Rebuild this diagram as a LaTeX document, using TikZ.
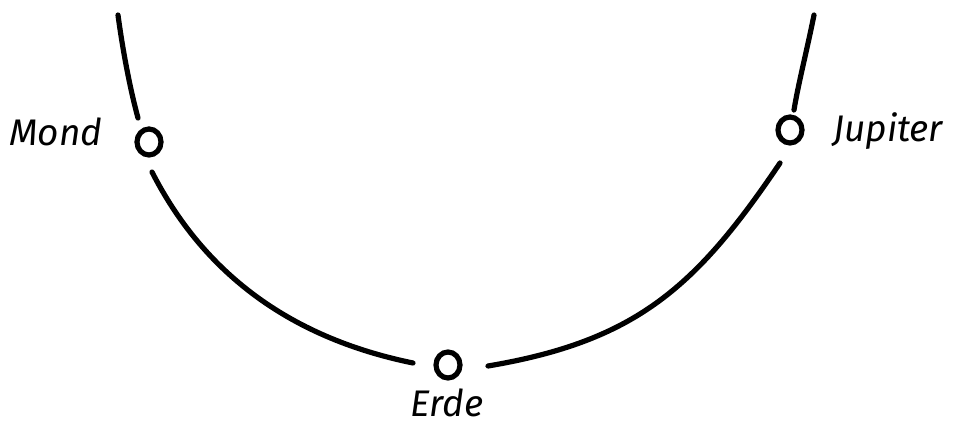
\documentclass[tikz,border=0pt]{standalone}
\usepackage{fontspec}
\setmainfont{Fira Sans}
\usetikzlibrary{shapes.geometric}
\tikzset{
  planet/.style={ellipse, draw, line width=5.2pt, inner sep=0pt,
                 minimum width=24pt, minimum height=26pt},
  arc/.style={line width=5.2pt, line cap=round},
  lbl/.style={font=\fontsize{37}{40}\selectfont\itshape, inner sep=0pt}
}
\begin{document}
\begin{tikzpicture}[x=1pt,y=-1pt]
\useasboundingbox (0,0) rectangle (961,427);
% planets
\node[planet] (mond) at (149,142) {};
\node[planet] (erde) at (448,365) {};
\node[planet] (jup)  at (790,130) {};
% labels
\node[lbl, anchor=base] (mondL) at (56,146) {Mond};
\node[lbl, anchor=base west] (jupL) at (833,142) {Jupiter};
\node[lbl, anchor=base] (erdeL) at (447,416) {Erde};
% free ends
\coordinate (tl) at (118,15);
\coordinate (tr) at (814,15);
% arcs
\draw[arc] (tl) .. controls (122,45) and (129,85) .. ([shift={(-11,-24)}]mond.center);
\draw[arc] ([shift={(3,30)}]mond.center) .. controls (202,270) and (286,337) .. ([shift={(-35,-2)}]erde.center);
\draw[arc] ([shift={(40,1)}]erde.center) .. controls (636,341) and (696,287.5) .. ([shift={(-10,33)}]jup.center);
\draw[arc] ([shift={(4,-20)}]jup.center) .. controls (798,85) and (807,50) .. (tr);
\end{tikzpicture}
\end{document}
